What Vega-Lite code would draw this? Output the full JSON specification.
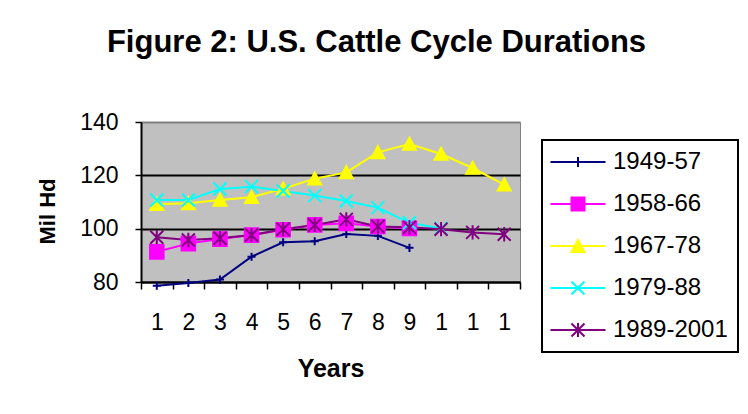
{
  "$schema": "https://vega.github.io/schema/vega-lite/v6.json",
  "width": 379,
  "height": 160,
  "autosize": {"type": "none"},
  "padding": {"left": 141, "top": 122, "right": 228, "bottom": 132},
  "background": "white",
  "title": {
    "text": "Figure 2: U.S. Cattle Cycle Durations",
    "font": "Liberation Sans",
    "fontSize": 31,
    "fontWeight": "bold",
    "color": "black",
    "anchor": "middle",
    "frame": "group",
    "dx": 46,
    "baseline": "alphabetic",
    "offset": 28
  },
  "data": {
    "values": [
      {"series": "1949-57", "year": 1, "value": 78.6},
      {"series": "1949-57", "year": 2, "value": 79.6},
      {"series": "1949-57", "year": 3, "value": 80.9},
      {"series": "1949-57", "year": 4, "value": 89.5},
      {"series": "1949-57", "year": 5, "value": 94.9},
      {"series": "1949-57", "year": 6, "value": 95.3},
      {"series": "1949-57", "year": 7, "value": 98.0},
      {"series": "1949-57", "year": 8, "value": 97.3},
      {"series": "1949-57", "year": 9, "value": 92.8},
      {"series": "1958-66", "year": 1, "value": 91.3},
      {"series": "1958-66", "year": 2, "value": 94.4},
      {"series": "1958-66", "year": 3, "value": 96.1},
      {"series": "1958-66", "year": 4, "value": 97.6},
      {"series": "1958-66", "year": 5, "value": 99.6},
      {"series": "1958-66", "year": 6, "value": 101.4},
      {"series": "1958-66", "year": 7, "value": 102.0},
      {"series": "1958-66", "year": 8, "value": 100.8},
      {"series": "1958-66", "year": 9, "value": 100.1},
      {"series": "1967-78", "year": 1, "value": 109.2},
      {"series": "1967-78", "year": 2, "value": 109.5},
      {"series": "1967-78", "year": 3, "value": 110.75},
      {"series": "1967-78", "year": 4, "value": 111.8},
      {"series": "1967-78", "year": 5, "value": 115.0},
      {"series": "1967-78", "year": 6, "value": 118.75},
      {"series": "1967-78", "year": 7, "value": 121.1},
      {"series": "1967-78", "year": 8, "value": 128.6},
      {"series": "1967-78", "year": 9, "value": 131.75},
      {"series": "1967-78", "year": 10, "value": 128.0},
      {"series": "1967-78", "year": 11, "value": 122.75},
      {"series": "1967-78", "year": 12, "value": 116.5},
      {"series": "1979-88", "year": 1, "value": 110.75},
      {"series": "1979-88", "year": 2, "value": 110.75},
      {"series": "1979-88", "year": 3, "value": 114.9},
      {"series": "1979-88", "year": 4, "value": 115.75},
      {"series": "1979-88", "year": 5, "value": 114.1},
      {"series": "1979-88", "year": 6, "value": 112.4},
      {"series": "1979-88", "year": 7, "value": 110.4},
      {"series": "1979-88", "year": 8, "value": 107.9},
      {"series": "1979-88", "year": 9, "value": 102.2},
      {"series": "1979-88", "year": 10, "value": 100.1},
      {"series": "1989-2001", "year": 1, "value": 96.8},
      {"series": "1989-2001", "year": 2, "value": 95.75},
      {"series": "1989-2001", "year": 3, "value": 96.4},
      {"series": "1989-2001", "year": 4, "value": 97.6},
      {"series": "1989-2001", "year": 5, "value": 99.8},
      {"series": "1989-2001", "year": 6, "value": 101.4},
      {"series": "1989-2001", "year": 7, "value": 103.5},
      {"series": "1989-2001", "year": 8, "value": 100.8},
      {"series": "1989-2001", "year": 9, "value": 100.5},
      {"series": "1989-2001", "year": 10, "value": 99.8},
      {"series": "1989-2001", "year": 11, "value": 98.6},
      {"series": "1989-2001", "year": 12, "value": 97.9}
    ]
  },
  "encoding": {
    "x": {
      "field": "year",
      "type": "ordinal",
      "scale": {"type": "band", "paddingInner": 0, "paddingOuter": 0},
      "axis": {
        "title": "Years",
        "labelExpr": "substring(datum.label, 0, 1)",
        "labelAngle": 0,
        "labelFont": "Liberation Sans",
        "labelFontSize": 23,
        "labelColor": "black",
        "labelPadding": 22,
        "labelBaseline": "top",
        "tickBand": "extent",
        "tickSize": 7,
        "tickColor": "black",
        "tickWidth": 1.5,
        "domainColor": "black",
        "domainWidth": 2,
        "grid": false,
        "titleFont": "Liberation Sans",
        "titleFontSize": 25,
        "titleFontWeight": "bold",
        "titleColor": "black",
        "titleBaseline": "top",
        "titleY": 74
      }
    },
    "y": {
      "field": "value",
      "type": "quantitative",
      "scale": {"domain": [80, 140], "nice": false, "zero": false},
      "axis": {
        "title": "Mil Hd",
        "values": [80, 100, 120, 140],
        "labelFont": "Liberation Sans",
        "labelFontSize": 23,
        "labelColor": "black",
        "labelPadding": 17,
        "tickSize": 6,
        "tickColor": "black",
        "tickWidth": 1.5,
        "domainColor": "black",
        "domainWidth": 2,
        "grid": true,
        "gridColor": {"condition": {"test": "datum.value === 140", "value": "#808080"}, "value": "black"},
        "gridWidth": 2,
        "titleFont": "Liberation Sans",
        "titleFontSize": 22,
        "titleFontWeight": "bold",
        "titleColor": "black",
        "titleAngle": -90,
        "titleAlign": "center",
        "titleBaseline": "middle",
        "titleX": -94,
        "titleY": 89
      }
    }
  },
  "layer": [
    {
      "mark": {"type": "line", "strokeWidth": 2},
      "encoding": {
        "stroke": {
          "field": "series",
          "type": "nominal",
          "scale": {"domain": ["1949-57", "1958-66", "1967-78", "1979-88", "1989-2001"], "range": ["#000080", "#FF00FF", "#FFFF00", "#00FFFF", "#800080"]},
          "legend": null
        }
      }
    },
    {
      "mark": {"type": "point", "filled": true, "size": 169, "strokeWidth": 2, "opacity": 1},
      "encoding": {
        "shape": {
          "field": "series",
          "type": "nominal",
          "scale": {"domain": ["1949-57", "1958-66", "1967-78", "1979-88", "1989-2001"], "range": [
            "M-0.62,0L0.62,0M0,-0.62L0,0.62",
            "M-1.05,-1.05H1.05V1.05H-1.05Z",
            "M0,-0.95L1,0.9H-1Z",
            "M-1,-1L1,1M-1,1L1,-1",
            "M-1,-1L1,1M-1,1L1,-1M0,-1.1L0,1.1"
          ]},
          "legend": null
        },
        "fill": {
          "field": "series",
          "type": "nominal",
          "scale": {"domain": ["1949-57", "1958-66", "1967-78", "1979-88", "1989-2001"], "range": ["#000080", "#FF00FF", "#FFFF00", "#00FFFF", "#800080"]},
          "legend": null
        },
        "stroke": {
          "field": "series",
          "type": "nominal",
          "scale": {"domain": ["1949-57", "1958-66", "1967-78", "1979-88", "1989-2001"], "range": ["#000080", "#FF00FF", "#FFFF00", "#00FFFF", "#800080"]},
          "legend": null
        }
      }
    },
    {
      "mark": {"type": "point", "filled": true, "size": 169, "strokeWidth": 2, "opacity": 0},
      "encoding": {
        "shape": {
          "field": "series",
          "type": "nominal",
          "scale": {"domain": ["1949-57", "1958-66", "1967-78", "1979-88", "1989-2001"], "range": [
            "M-2.75,0L2.75,0M0,-0.5L0,0.5",
            "M-2.75,0L2.75,0M-0.65,-0.65H0.65V0.65H-0.65Z",
            "M-2.75,0L2.75,0M0,-0.6L0.65,0.6H-0.65Z",
            "M-2.75,0L2.75,0M-0.65,-0.65L0.65,0.65M-0.65,0.65L0.65,-0.65",
            "M-2.75,0L2.75,0M-0.65,-0.65L0.65,0.65M-0.65,0.65L0.65,-0.65M0,-0.7L0,0.7"
          ]},
          "legend": {
            "title": null,
            "orient": "none",
            "legendX": 401,
            "legendY": 18,
            "strokeColor": "black",
            "padding": 10,
            "symbolSize": 400,
            "symbolStrokeWidth": 2,
            "symbolOpacity": 1,
            "symbolOffset": 14,
            "labelFont": "Liberation Sans",
            "labelFontSize": 24,
            "labelColor": "black",
            "labelOffset": 23,
            "rowPadding": 18
          }
        },
        "fill": {
          "field": "series",
          "type": "nominal",
          "scale": {"domain": ["1949-57", "1958-66", "1967-78", "1979-88", "1989-2001"], "range": ["#000080", "#FF00FF", "#FFFF00", "#00FFFF", "#800080"]},
          "legend": {"title": null, "symbolOpacity": 1}
        },
        "stroke": {
          "field": "series",
          "type": "nominal",
          "scale": {"domain": ["1949-57", "1958-66", "1967-78", "1979-88", "1989-2001"], "range": ["#000080", "#FF00FF", "#FFFF00", "#00FFFF", "#800080"]},
          "legend": {"title": null, "symbolOpacity": 1}
        }
      }
    }
  ],
  "resolve": {"scale": {"stroke": "independent", "fill": "independent", "shape": "independent"}},
  "config": {
    "view": {"fill": "#C0C0C0", "stroke": "#808080", "strokeWidth": 1},
    "legend": {"strokeWidth": 2}
  }
}
